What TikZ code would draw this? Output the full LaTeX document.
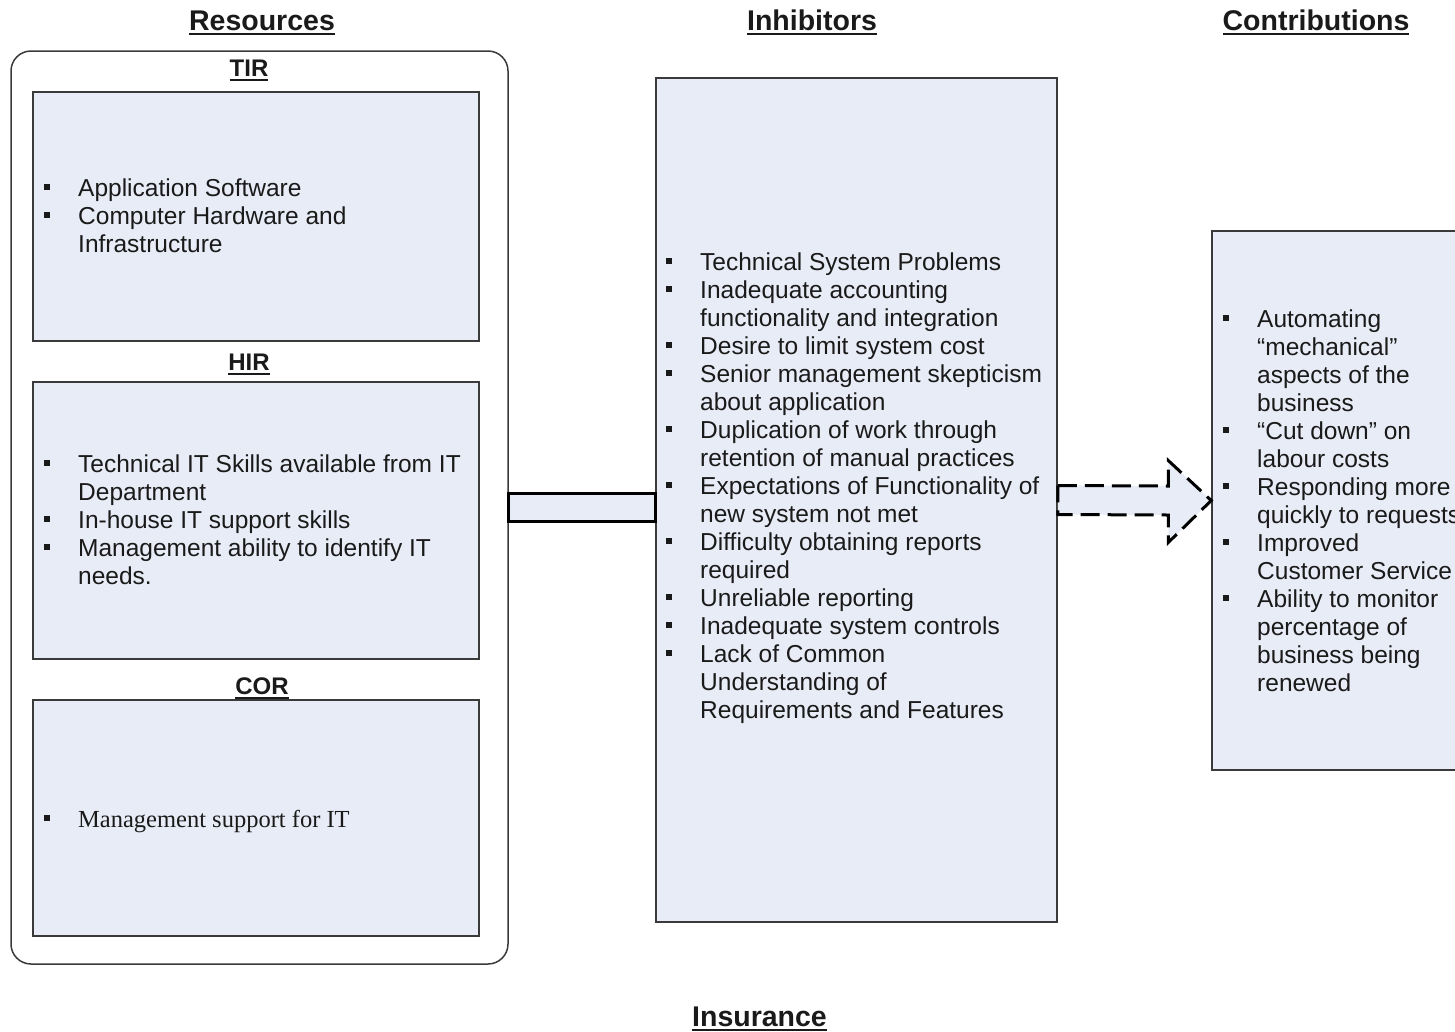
\documentclass[tikz,border=0pt]{standalone}
\usepackage{fontspec}
\setmainfont{Liberation Sans}
\newfontfamily\serifface{Liberation Serif}
\usetikzlibrary{calc}

\definecolor{panel}{HTML}{E8ECF6}
\definecolor{ink}{HTML}{1A1A1A}
\definecolor{edge}{HTML}{3A3A3A}

% bulleted text block: first baseline at the node's base
\newcommand\itemlines[1]{\parbox[t]{600pt}{\fontsize{24.5}{28}\selectfont\raggedright #1}}
\newcommand\sqb{\leavevmode\llap{\raisebox{6.5pt}{\rule{6pt}{5.5pt}}\hspace{28.5pt}}}
% heading with a heavier underline
\newcommand\ulbar[1]{\leavevmode\vtop{\hbox{\raisebox{0pt}[\height][0pt]{#1}}\kern3pt\hrule height 2.2pt}}

\tikzset{
  panelbox/.style={draw=edge, line width=1.5pt, fill=panel, inner sep=0pt},
  framebox/.style={draw=edge, line width=1.5pt, fill=white, rounded corners=20pt, inner sep=0pt},
  heading/.style={font=\fontsize{28.5}{34}\selectfont\bfseries, text=ink, inner sep=0pt, anchor=base},
  sublabel/.style={font=\fontsize{24}{28}\selectfont\bfseries, text=ink, inner sep=0pt, anchor=base},
  listtext/.style={text=ink, inner sep=0pt, anchor=base west},
  linkbar/.style={draw=black, line width=3pt, fill=panel},
  flowarrow/.style={draw=black, line width=3pt, fill=panel, dash pattern=on 19pt off 8pt},
}

\begin{document}
\begin{tikzpicture}[x=1pt, y=-1pt]
\useasboundingbox (0,0) rectangle (1455,1031);

% column headings
\node[heading] (hres) at (262,30) {\ulbar{Resources}};
\node[heading] (hinh) at (812,30) {\ulbar{Inhibitors}};
\node[heading] (hcon) at (1316,30) {\ulbar{Contributions}};
\node[heading] (hins) at (759.5,1026) {\ulbar{Insurance}};

% resources frame and its three panels
\node[framebox, minimum width=497, minimum height=913] (res) at (259.5,507.5) {};
\node[panelbox, minimum width=446, minimum height=249] (tir) at (256,216.5) {};
\node[panelbox, minimum width=446, minimum height=277] (hir) at (256,520.5) {};
\node[panelbox, minimum width=446, minimum height=236] (cor) at (256,818) {};

\node[sublabel] (ltir) at (249,76) {\ulbar{TIR}};
\node[sublabel] (lhir) at (249,370) {\ulbar{HIR}};
\node[sublabel] (lcor) at (262,694) {\ulbar{COR}};

\node[listtext] (ttir) at (78,196) {\itemlines{%
  \sqb Application Software\\
  \sqb Computer Hardware and\\
  Infrastructure}};

\node[listtext] (thir) at (78,472) {\itemlines{%
  \sqb Technical IT Skills available from IT\\
  Department\\
  \sqb In-house IT support skills\\
  \sqb Management ability to identify IT\\
  needs.}};

\node[listtext] (tcor) at (78,827) {\itemlines{\serifface
  \sqb Management support for IT}};

% inhibitors panel
\node[panelbox, minimum width=401, minimum height=844] (inh) at (856.5,500) {};
\node[listtext] (tinh) at (700,270) {\itemlines{%
  \sqb Technical System Problems\\
  \sqb Inadequate accounting\\
  functionality and integration\\
  \sqb Desire to limit system cost\\
  \sqb Senior management skepticism\\
  about application\\
  \sqb Duplication of work through\\
  retention of manual practices\\
  \sqb Expectations of Functionality of\\
  new system not met\\
  \sqb Difficulty obtaining reports\\
  required\\
  \sqb Unreliable reporting\\
  \sqb Inadequate system controls\\
  \sqb Lack of Common\\
  Understanding of\\
  Requirements and Features}};

% contributions panel (runs past the right edge)
\node[panelbox, minimum width=268, minimum height=539] (con) at (1346,500.5) {};
\node[listtext] (tcon) at (1257,327) {\itemlines{%
  \sqb Automating\\
  “mechanical”\\
  aspects of the\\
  business\\
  \sqb “Cut down” on\\
  labour costs\\
  \sqb Responding more\\
  quickly to requests\\
  \sqb Improved\\
  Customer Service\\
  \sqb Ability to monitor\\
  percentage of\\
  business being\\
  renewed}};

% link from resources to inhibitors
\draw[linkbar] ($(res.east)+(0,-14.5)$) rectangle ($(res.east -| inh.west)+(0,14)$);

% dashed block arrow from inhibitors to contributions
\draw[flowarrow]
  ($(inh.east)+(0,-14.5)$) -- ($(con.west)+(-43,-14.5)$) -- ($(con.west)+(-43,-40)$)
  -- (con.west)
  -- ($(con.west)+(-43,42)$) -- ($(con.west)+(-43,14.5)$) -- ($(inh.east)+(0,14.5)$) -- cycle;
\end{tikzpicture}
\end{document}
